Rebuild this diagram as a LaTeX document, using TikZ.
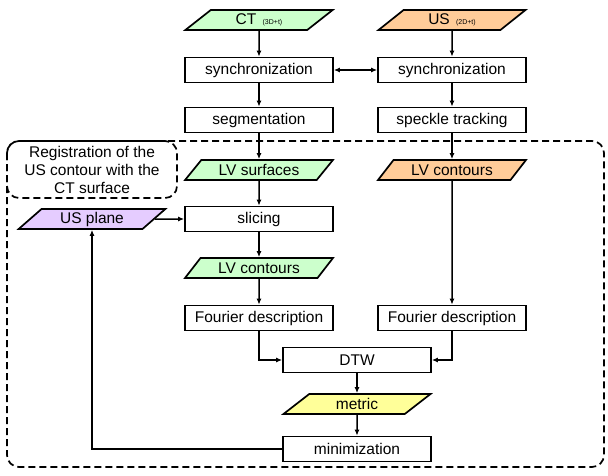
\documentclass[tikz,border=0pt]{standalone}
\usepackage{fontspec}
\setmainfont{Liberation Sans}
\usetikzlibrary{shapes.geometric,arrows.meta}
\definecolor{cgreen}{RGB}{204,255,204}
\definecolor{corange}{RGB}{255,204,153}
\definecolor{cpurple}{RGB}{229,204,255}
\definecolor{cyellow}{RGB}{255,255,153}
\begin{document}
\begin{tikzpicture}[x=1pt,y=-1pt,
  txt/.style={font=\fontsize{15.5}{18}\selectfont},
  box/.style={txt, draw, line width=1.7pt, minimum width=148pt, minimum height=25pt, inner sep=0pt},
  para/.style={txt, draw, line width=1.7pt, trapezium, trapezium left angle=45, trapezium right angle=135, trapezium stretches=true, minimum width=148pt, minimum height=20pt, inner sep=0pt},
  arr/.style={-{Latex[length=6pt,width=5pt]}, line width=1.5pt},
  dsh/.style={line width=1.7pt, dash pattern=on 7pt off 4pt, rounded corners=12pt}]
\useasboundingbox (0,0) rectangle (608,475);
% outer dashed region
\draw[dsh] (7,141) rectangle (604,467);
\draw[dsh] (7,141) rectangle (177,198);
\node[txt, align=center, inner sep=0pt] (reg) at (92,170) {Registration of the\\US contour with the\\CT surface};
% nodes
\node[para, fill=cgreen] (ct) at (259,20) {CT {\fontsize{7}{8}\selectfont\ (3D+t)}};
\node[para, fill=corange] (us) at (452,20) {US {\fontsize{7}{8}\selectfont\ (2D+t)}};
\node[box] (sync1) at (259,70) {synchronization};
\node[box] (sync2) at (452,70) {synchronization};
\node[box] (seg) at (259,120) {segmentation};
\node[box] (spk) at (452,120) {speckle tracking};
\node[para, fill=cgreen] (lvs) at (259,170) {LV surfaces};
\node[para, fill=corange] (lvc2) at (452,170) {LV contours};
\node[box] (slc) at (259,219) {slicing};
\node[para, fill=cpurple] (usp) at (92,219) {US plane};
\node[para, fill=cgreen] (lvc1) at (259,268) {LV contours};
\node[box] (f1) at (259,318) {Fourier description};
\node[box] (f2) at (452,318) {Fourier description};
\node[box] (dtw) at (357,360) {DTW};
\node[para, fill=cyellow] (met) at (357,404) {metric};
\node[box] (min) at (357,449) {minimization};
% connectors
\draw[arr] (ct) -- (sync1);
\draw[arr] (us) -- (sync2);
\draw[arr, {Latex[length=6pt,width=5pt]}-{Latex[length=6pt,width=5pt]}] (sync1) -- (sync2);
\draw[arr] (sync1) -- (seg);
\draw[arr] (sync2) -- (spk);
\draw[arr] (seg) -- (lvs);
\draw[arr] (spk) -- (lvc2);
\draw[arr] (lvs) -- (slc);
\draw[arr] (usp) -- (slc);
\draw[arr] (slc) -- (lvc1);
\draw[arr] (lvc1) -- (f1);
\draw[arr] (lvc2) -- (f2);
\draw[arr] (f1) |- (dtw.west);
\draw[arr] (f2) |- (dtw.east);
\draw[arr] (dtw) -- (met);
\draw[arr] (met) -- (min);
\draw[arr] (min.west) -| (usp.south);
\end{tikzpicture}
\end{document}
